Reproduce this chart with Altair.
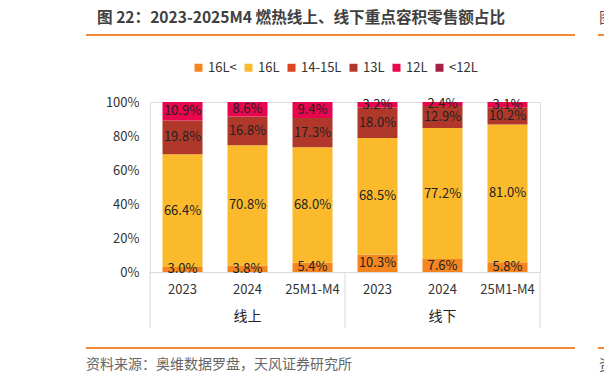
import altair as alt
import pandas as pd

FONT = "Noto Sans CJK SC"

# ---- data ----
channels = ["线上", "线上", "线上", "线下", "线下", "线下"]
periods = ["2023", "2024", "25M1-M4", "2023", "2024", "25M1-M4"]
sizes = ["16L<", "16L", "14-15L", "13L", "12L", "<12L"]
colors = ["#F5861F", "#FBBA2C", "#DE4420", "#B0382A", "#E8064E", "#A52043"]
v_16plus = [3.0, 3.8, 5.4, 10.3, 7.6, 5.8]
v_16 = [66.4, 70.8, 68.0, 68.5, 77.2, 81.0]
v_1415 = [0, 0, 0, 0, 0, 0]
v_13 = [19.8, 16.8, 17.3, 18.0, 12.9, 10.2]
v_12 = [10.9, 8.6, 9.4, 3.2, 2.4, 3.1]
v_lt12 = [0, 0, 0, 0, 0, 0]
series = [v_16plus, v_16, v_1415, v_13, v_12, v_lt12]
y_ticks = [0, 0.2, 0.4, 0.6, 0.8, 1.0]

title_text = "图 22：2023-2025M4 燃热线上、线下重点容积零售额占比"
source_text = "资料来源：奥维数据罗盘，天风证券研究所"

cats = [f"{c}|{p}" for c, p in zip(channels, periods)]
rows = []
for si, (s, vals) in enumerate(zip(sizes, series)):
    for cat, v in zip(cats, vals):
        rows.append({"cat": cat, "size": s, "order": si, "value": v})
df = pd.DataFrame(rows)

W, H = 390, 170

xscale = alt.Scale(domain=cats, paddingInner=0, paddingOuter=0)
yscale = alt.Scale(domain=[0, 1], nice=False)

x_axis = alt.Axis(title=None, labelExpr="split(datum.label, '|')[1]",
                  labelAngle=0, ticks=False, tickSize=0,
                  domainColor="#D9D9D9", domainWidth=1,
                  labelPadding=11, labelFontSize=13, labelColor="#333333",
                  labelFont=FONT)
y_axis = alt.Axis(title=None, format=".0%", values=y_ticks,
                  grid=False, domain=False, ticks=False, tickSize=0,
                  labelOverlap=False, labelFlush=False, labelBaseline="middle",
                  labelPadding=11, labelFontSize=13, labelColor="#333333",
                  labelFont=FONT)

base = alt.Chart(df).transform_stack(
    stack="value", as_=["y0", "y1"], groupby=["cat"],
    sort=[alt.SortField("order")], offset="normalize"
)

bars = base.mark_bar(width=40).encode(
    x=alt.X("cat:N", scale=xscale, sort=cats, axis=x_axis),
    y=alt.Y("y0:Q", scale=yscale, axis=y_axis),
    y2="y1:Q",
    color=alt.Color("size:N", scale=alt.Scale(domain=sizes, range=colors),
                    legend=alt.Legend(orient="none", legendX=42, legendY=-41,
                                      direction="horizontal", title=None,
                                      symbolType="square", symbolSize=64,
                                      symbolStrokeWidth=0, labelFontSize=13,
                                      labelColor="#333333", labelFont=FONT,
                                      labelOffset=3, columnPadding=5)),
)

labels = base.transform_filter("datum.value > 0").transform_calculate(
    mid="(datum.y0 + datum.y1) / 2",
    lab="format(datum.value, '.1f') + '%'"
).mark_text(fontSize=13, color="#222222", font=FONT, baseline="middle").encode(
    x=alt.X("cat:N", scale=xscale, sort=cats, axis=x_axis),
    y=alt.Y("mid:Q", scale=yscale, axis=y_axis),
    text="lab:N",
)

sep_start = alt.Chart(pd.DataFrame({"cat": [cats[0], cats[3]]})).mark_rule(
    color="#D9D9D9", strokeWidth=1
).encode(x=alt.X("cat:N", bandPosition=0, scale=xscale, sort=cats, axis=x_axis),
         y=alt.value(H), y2=alt.value(H + 56))

sep_end = alt.Chart(pd.DataFrame({"cat": [cats[5]]})).mark_rule(
    color="#D9D9D9", strokeWidth=1
).encode(x=alt.X("cat:N", bandPosition=1, scale=xscale, sort=cats, axis=x_axis),
         y=alt.value(H), y2=alt.value(H + 56))

groups = alt.Chart(pd.DataFrame({"cat": [cats[1], cats[4]], "g": ["线上", "线下"]})).mark_text(
    fontSize=14, color="#222222", font=FONT, baseline="middle"
).encode(x=alt.X("cat:N", scale=xscale, sort=cats, axis=x_axis), y=alt.value(215), text="g:N")

title = alt.Chart(pd.DataFrame({"t": [title_text]})).mark_text(
    fontSize=15.6, fontWeight="bold", color="#404040", font=FONT, align="left", baseline="middle"
).encode(x=alt.value(-53), y=alt.value(-84), text="t:N")

source = alt.Chart(pd.DataFrame({"t": [source_text]})).mark_text(
    fontSize=14, color="#666666", font=FONT, align="left", baseline="middle"
).encode(x=alt.value(-64), y=alt.value(263), text="t:N")

edge = alt.Chart(pd.DataFrame({"t": ["图", "资"], "yy": [-84, 263]})).mark_text(
    fontSize=15, color="#555555", font=FONT, align="left", baseline="middle"
).encode(x=alt.value(449), y=alt.Y("yy:Q", scale=None), text="t:N")

line_df = pd.DataFrame({"k": [0]})
top_line = alt.Chart(line_df).mark_rule(color="#F0883A", strokeWidth=2).encode(
    x=alt.value(-64), x2=alt.value(425), y=alt.value(-67))
top_line2 = alt.Chart(line_df).mark_rule(color="#F0883A", strokeWidth=2).encode(
    x=alt.value(448), x2=alt.value(470), y=alt.value(-67))
bot_line = alt.Chart(line_df).mark_rule(color="#F0883A", strokeWidth=2).encode(
    x=alt.value(-64), x2=alt.value(425), y=alt.value(246))
bot_line2 = alt.Chart(line_df).mark_rule(color="#F0883A", strokeWidth=2).encode(
    x=alt.value(448), x2=alt.value(470), y=alt.value(246))

chart = alt.layer(
    bars, labels, sep_start, sep_end, groups, title, source, edge,
    top_line, top_line2, bot_line, bot_line2
).properties(
    width=W, height=H,
    autosize=alt.AutoSizeParams(type="none"),
    padding={"left": 142, "top": 94, "right": 64, "bottom": 103},
).configure_view(stroke=None).configure(font=FONT)

chart.save("out.html", embed_options={"renderer": "svg", "actions": False})
